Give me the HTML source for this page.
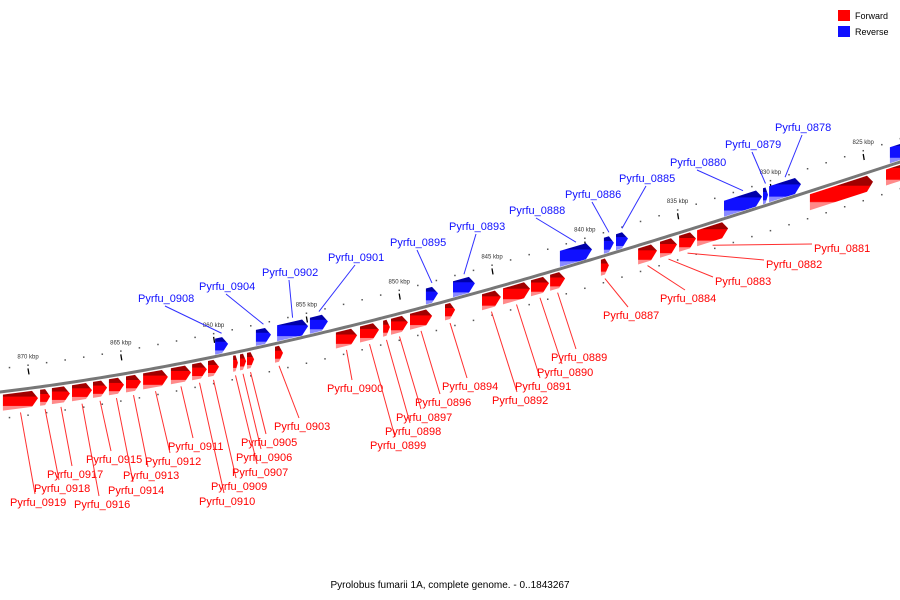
<!DOCTYPE html>
<html><head><meta charset="utf-8"><style>
body{margin:0;background:#fff;}
svg{display:block;font-family:"Liberation Sans",sans-serif;}
</style></head><body>
<svg id="chart" width="900" height="600" viewBox="0 0 900 600">
<defs>
<linearGradient id="gr" x1="0" y1="0" x2="0" y2="1">
<stop offset="0" stop-color="#a00000"/><stop offset="0.28" stop-color="#a00000"/><stop offset="0.3" stop-color="#ff0000"/><stop offset="0.75" stop-color="#ff0000"/><stop offset="0.78" stop-color="#ff8a8a"/><stop offset="1" stop-color="#ff8a8a"/>
</linearGradient>
<linearGradient id="gb" x1="0" y1="0" x2="0" y2="1">
<stop offset="0" stop-color="#0000a8"/><stop offset="0.25" stop-color="#0000a8"/><stop offset="0.28" stop-color="#1010ff"/><stop offset="0.75" stop-color="#1010ff"/><stop offset="0.78" stop-color="#8a8aff"/><stop offset="1" stop-color="#8a8aff"/>
</linearGradient>
</defs>
<g id="ticks"></g>
<path id="backbone" fill="none" stroke="#777" stroke-width="3"/>
<g id="genes"></g>
<g id="labels"></g>
<g>
<rect x="838" y="10" width="12" height="11" fill="#ff0000"/>
<text x="855" y="19" font-size="9" fill="#000">Forward</text>
<rect x="838" y="26" width="12" height="11" fill="#1010ff"/>
<text x="855" y="35" font-size="9" fill="#000">Reverse</text>
</g>
<text x="450" y="588" font-size="10" text-anchor="middle" fill="#000">Pyrolobus fumarii 1A, complete genome. - 0..1843267</text>
</svg>
<script>
// genes: name, start kbp, end kbp
const fwdNames=["Pyrfu_0919","Pyrfu_0918","Pyrfu_0917","Pyrfu_0916","Pyrfu_0915","Pyrfu_0914","Pyrfu_0913","Pyrfu_0912","Pyrfu_0911","Pyrfu_0910","Pyrfu_0909","Pyrfu_0907","Pyrfu_0906","Pyrfu_0905","Pyrfu_0903","Pyrfu_0900","Pyrfu_0899","Pyrfu_0898","Pyrfu_0897","Pyrfu_0896","Pyrfu_0894","Pyrfu_0892","Pyrfu_0891","Pyrfu_0890","Pyrfu_0889","Pyrfu_0887","Pyrfu_0884","Pyrfu_0883","Pyrfu_0882","Pyrfu_0881","",""];
const fwdStart=[871.35,869.35,868.71,867.63,866.50,865.64,864.72,863.80,862.30,861.16,860.30,858.95,858.58,858.20,856.69,853.41,852.11,850.87,850.44,849.42,847.53,845.54,844.41,842.90,841.87,839.13,837.13,835.95,834.92,833.95,827.87,823.77];
const fwdEnd=[869.46,868.81,867.74,866.55,865.74,864.83,863.91,862.46,861.22,860.36,859.71,858.69,858.25,857.82,856.26,852.27,851.09,850.50,849.53,848.23,846.99,844.52,842.95,841.93,841.06,838.70,836.11,835.03,834.01,832.28,824.47,822.0];
const fwdLabelX=[10,34,47,74,86,108,123,145,168,199,211,232,236,241,274,327,370,385,396,415,442,492,515,537,551,603,660,715,766,814];
const fwdLabelY=[502,488,474,504,459,490,475,461,446,501,486,472,457,442,426,388,445,431,417,402,386,400,386,372,357,315,298,281,264,248];
const revNames=["Pyrfu_0908","Pyrfu_0904","Pyrfu_0902","Pyrfu_0901","Pyrfu_0895","Pyrfu_0893","Pyrfu_0888","Pyrfu_0886","Pyrfu_0885","Pyrfu_0880","Pyrfu_0879","Pyrfu_0878",""];
const revStart=[859.92,857.72,856.58,854.81,848.56,847.10,841.34,838.97,838.32,832.50,830.40,830.07,823.56];
const revEnd=[859.22,856.91,854.91,853.84,847.91,845.92,839.61,838.43,837.67,830.45,830.13,828.35,822.0];
const revLabelX=[138,199,262,328,390,449,509,565,619,670,725,775];
const revLabelY=[298,286,272,257,242,226,210,194,178,162,144,127];
const tickKbp=[870,865,860,855,850,845,840,835,830,825];
const tickLabels=["870 kbp","865 kbp","860 kbp","855 kbp","850 kbp","845 kbp","840 kbp","835 kbp","830 kbp","825 kbp"];

const NS="http://www.w3.org/2000/svg";
function X(k){return 28+(870-k)*18.56;}
function bb(x){ // backbone curve
  const xs=[0,300,600,900],ys=[392,338,257,162];let y=0;
  for(let i=0;i<4;i++){let l=1;for(let j=0;j<4;j++)if(j!==i)l*=(x-xs[j])/(xs[i]-xs[j]);y+=ys[i]*l;}
  return y;
}
function mk(tag,attrs,parent){const e=document.createElementNS(NS,tag);for(const k in attrs)e.setAttribute(k,attrs[k]);parent.appendChild(e);return e;}
let d="M-5 "+bb(-5);for(let x=0;x<=905;x+=5)d+=" L"+x+" "+bb(x).toFixed(2);
document.getElementById('backbone').setAttribute('d',d);
const tg=document.getElementById('ticks');
for(let k=871;k>=822;k--){const x=X(k);
  let c=mk('rect',{x:x-0.7,y:bb(x)-24,width:1.5,height:1.5,fill:'#555'},tg);
  
  
  let c2=mk('rect',{x:x-0.7,y:bb(x)+26,width:1.5,height:1.5,fill:'#555'},tg);
  
  
}
tickKbp.forEach((k,i)=>{const x=X(k),y=bb(x);
  let t=mk('line',{x1:x,y1:y-20,x2:x+1,y2:y-14,stroke:'#000','stroke-width':1.3},tg);
  
  
  let tx=mk('text',{x:x,y:y-30,'font-size':6,'text-anchor':'middle',fill:'#333'},tg);
  
  
  tx.textContent=tickLabels[i];
});
const gg=document.getElementById('genes'),lg=document.getElementById('labels');
function gene(s,e,o1,o2,fill){
  const x1=X(s),x2=X(e),h=Math.min(6,(x2-x1)*0.5),xm=x2-h;
  const pts=[[x1,bb(x1)+o1],[xm,bb(xm)+o1],[x2,bb(x2)+(o1+o2)/2],[xm,bb(xm)+o2],[x1,bb(x1)+o2]];
  let p=mk('polygon',{points:pts.map(q=>q[0].toFixed(1)+","+q[1].toFixed(1)).join(' '),fill:fill},gg);
  return p;
}
fwdStart.forEach((s,i)=>{
  let p=gene(s,fwdEnd[i],3,19,'url(#gr)');
  
  
  if(i<fwdLabelX.length){
    const xc=(X(s)+X(fwdEnd[i]))/2,lx=fwdLabelX[i],ly=fwdLabelY[i];
    let ex=lx+25,ey=ly-8;
    if(lx>xc+40){ex=lx-2;ey=ly-4;}
    let l=mk('line',{x1:xc,y1:bb(xc)+23,x2:ex,y2:ey,stroke:'#ff3030','stroke-width':1},lg);
    
    
    let t=mk('text',{x:lx,y:ly+4,'font-size':11,fill:'#ff0000'},lg);
    
    
    t.textContent=fwdNames[i];
  }
});
revStart.forEach((s,i)=>{
  let p=gene(s,revEnd[i],-18,-2,'url(#gb)');
  
  
  if(i<revLabelX.length){
    const xc=(X(s)+X(revEnd[i]))/2,lx=revLabelX[i],ly=revLabelY[i];
    let l=mk('line',{x1:lx+27,y1:ly+8,x2:xc,y2:bb(xc)-22,stroke:'#3030ff','stroke-width':1},lg);
    
    
    let t=mk('text',{x:lx,y:ly+4,'font-size':11,fill:'#1010ff'},lg);
    
    
    t.textContent=revNames[i];
  }
});
</script>
</body></html>
